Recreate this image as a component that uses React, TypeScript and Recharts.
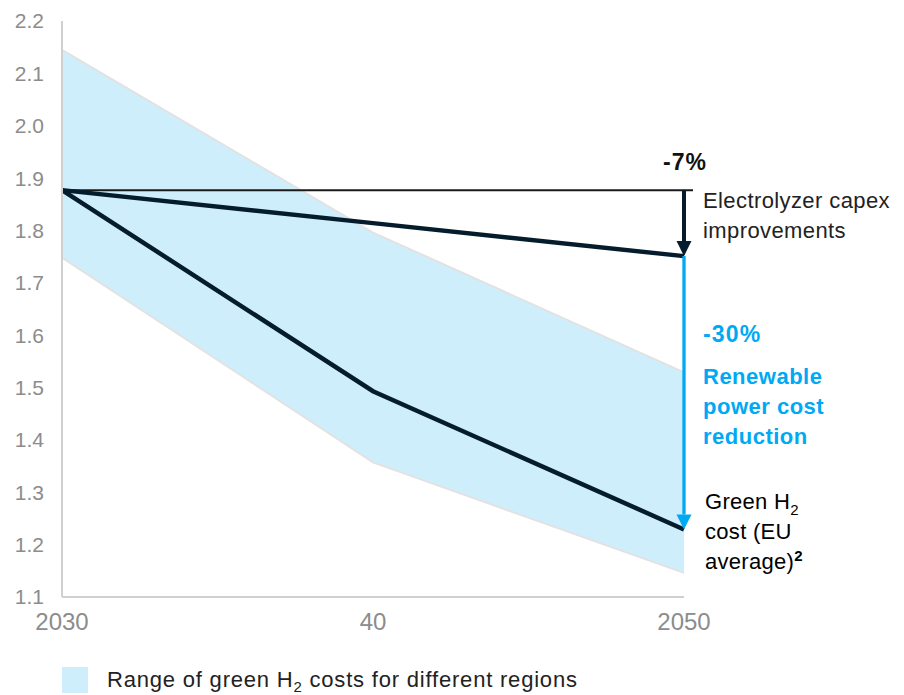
import React from "react";
import { ComposedChart, Area, Line, XAxis, YAxis, ReferenceLine, ReferenceDot } from "recharts";

const years = [2030, 2040, 2050];
const yearLabels = ["2030", "40", "2050"];
const yTicks = [1.1, 1.2, 1.3, 1.4, 1.5, 1.6, 1.7, 1.8, 1.9, 2.0, 2.1, 2.2];

// range of green H2 costs across regions
const rangeLow = [1.748, 1.357, 1.146];
const rangeHigh = [2.145, 1.796, 1.529];
// capex improvements only / full green H2 cost (EU average)
const capexOnly = [1.877, 1.814, 1.751];
const greenH2 = [1.877, 1.493, 1.229];

const data = years.map((year, i) => ({
  year,
  range: [rangeLow[i], rangeHigh[i]],
  capex: capexOnly[i],
  green: greenH2[i],
}));

const FONT = "'Liberation Sans', Arial, sans-serif";
const NAVY = "#051c2c";
const BLUE = "#00a9f4";
const last = years.length - 1;

function Arrow({ x1, y1, x2, y2, color, width }: any) {
  const head = 15;
  const dir = y2 > y1 ? 1 : -1;
  return (
    <g>
      <line x1={x1} y1={y1} x2={x2} y2={y2 - dir * head} stroke={color} strokeWidth={width} />
      <polygon
        points={`${x2 - 7.5},${y2 - dir * head} ${x2 + 7.5},${y2 - dir * head} ${x2},${y2}`}
        fill={color}
      />
    </g>
  );
}

export default function App() {
  return (
    <div style={{ position: "absolute", left: 0, top: 0, width: 904, height: 695, background: "#fff", fontFamily: FONT }}>
      <ComposedChart width={904} height={650} data={data} margin={{ top: 21, right: 220, bottom: 23, left: 0 }}>
        <XAxis
          dataKey="year"
          type="number"
          domain={[years[0], years[last]]}
          ticks={years}
          tickFormatter={(v) => yearLabels[years.indexOf(v)]}
          tick={{ fill: "#8c8c8c", fontSize: 24, fontFamily: FONT }}
          tickLine={false}
          tickMargin={10}
          axisLine={{ stroke: "#d0d0d0", strokeWidth: 2 }}
          height={30}
        />
        <YAxis
          type="number"
          domain={[1.1, 2.2]}
          ticks={yTicks}
          interval={0}
          tickFormatter={(v) => v.toFixed(1)}
          tick={{ fill: "#8c8c8c", fontSize: 21, fontFamily: FONT }}
          tickLine={false}
          tickMargin={12}
          axisLine={{ stroke: "#d0d0d0", strokeWidth: 2 }}
          width={62}
        />
        <Area
          dataKey="range"
          type="linear"
          fill="#cfeefb"
          fillOpacity={1}
          stroke="#e2e2e2"
          strokeWidth={2}
          isAnimationActive={false}
        />
        <ReferenceLine
          segment={[
            { x: years[0], y: capexOnly[0] },
            { x: years[last], y: capexOnly[0] },
          ]}
          shape={(p: any) => (
            <line x1={p.x1} y1={p.y1} x2={p.x2 + 9} y2={p.y2} stroke="#1a1a1a" strokeWidth={2} />
          )}
        />
        <Line dataKey="capex" type="linear" stroke={NAVY} strokeWidth={4.5} dot={false} isAnimationActive={false} />
        <Line dataKey="green" type="linear" stroke={NAVY} strokeWidth={4.5} dot={false} isAnimationActive={false} />
        <ReferenceLine
          segment={[
            { x: years[last], y: capexOnly[0] },
            { x: years[last], y: capexOnly[last] },
          ]}
          shape={(p: any) => <Arrow {...p} color={NAVY} width={4} />}
        />
        <ReferenceLine
          segment={[
            { x: years[last], y: capexOnly[last] },
            { x: years[last], y: greenH2[last] },
          ]}
          shape={(p: any) => <Arrow {...p} color={BLUE} width={3.3} />}
        />
        <ReferenceDot
          x={years[last]}
          y={capexOnly[0]}
          ifOverflow="visible"
          shape={(p: any) => (
            <g fontFamily={FONT}>
              <text x={p.cx + 1} y={p.cy - 20} textAnchor="middle" fontSize={23} fontWeight="bold" fill="#111" letterSpacing={1}>
                -7%
              </text>
              <text x={p.cx + 19} y={p.cy + 18} fontSize={22} fill="#222" letterSpacing={0.4}>
                Electrolyzer capex
              </text>
              <text x={p.cx + 19} y={p.cy + 48} fontSize={22} fill="#222" letterSpacing={0.4}>
                improvements
              </text>
            </g>
          )}
        />
        <ReferenceDot
          x={years[last]}
          y={capexOnly[last]}
          ifOverflow="visible"
          shape={(p: any) => (
            <g fontFamily={FONT} fontWeight="bold" fill={BLUE} fontSize={22} letterSpacing={0.5}>
              <text x={p.cx + 19} y={p.cy + 86} fontSize={23} letterSpacing={1.2}>-30%</text>
              <text x={p.cx + 19} y={p.cy + 128}>Renewable</text>
              <text x={p.cx + 19} y={p.cy + 158}>power cost</text>
              <text x={p.cx + 19} y={p.cy + 188}>reduction</text>
            </g>
          )}
        />
        <ReferenceDot
          x={years[last]}
          y={greenH2[last]}
          ifOverflow="visible"
          shape={(p: any) => (
            <g fontFamily={FONT} fill="#000" fontSize={22} letterSpacing={0.3}>
              <text x={p.cx + 21} y={p.cy - 20}>
                Green H<tspan fontSize={15} dy={6}>2</tspan>
              </text>
              <text x={p.cx + 21} y={p.cy + 10}>cost (EU</text>
              <text x={p.cx + 21} y={p.cy + 40}>
                average)<tspan fontSize={15} dy={-8} fontWeight="bold">2</tspan>
              </text>
            </g>
          )}
        />
      </ComposedChart>
      <div style={{ position: "absolute", left: 62, top: 667, display: "flex", alignItems: "center" }}>
        <div style={{ width: 26, height: 26, background: "#cfeefb" }} />
        <div style={{ marginLeft: 19, fontSize: 22, color: "#222", letterSpacing: 0.8, lineHeight: "26px", whiteSpace: "nowrap" }}>
          Range of green H<sub style={{ fontSize: 15, verticalAlign: -5, lineHeight: 0 }}>2</sub> costs for different regions
        </div>
      </div>
    </div>
  );
}
